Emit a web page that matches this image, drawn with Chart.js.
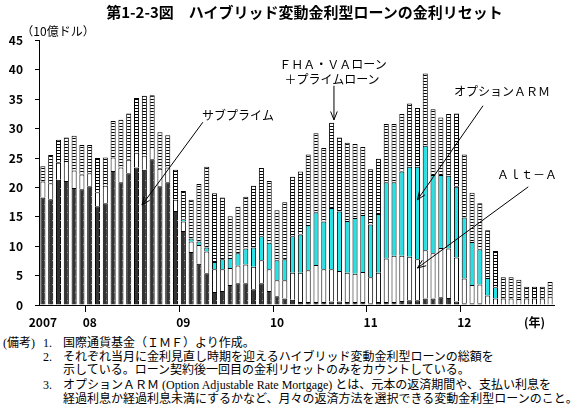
<!DOCTYPE html>
<html><head><meta charset="utf-8">
<script src="https://cdn.jsdelivr.net/npm/chart.js@4/dist/chart.umd.min.js"></script>
<style>
body{margin:0;background:#fff;width:578px;height:411px;overflow:hidden;position:relative;font-family:"Noto Sans CJK JP",sans-serif;color:#000}
#c{position:absolute;left:0;top:0}
.t{position:absolute;white-space:nowrap;line-height:12px;font-size:12px}
.cc{transform:translate(-50%,-50%)}
.n{font-family:"Liberation Serif","Noto Sans CJK JP",serif;font-size:12px;line-height:12px;position:absolute;white-space:nowrap}
</style></head><body>
<canvas id="c" width="578" height="335"></canvas>
<div class="t" style="left:0;width:609px;text-align:center;top:4px;font-size:15px;line-height:16px;font-weight:bold">第1-2-3図　ハイブリッド変動金利型ローンの金利リセット</div>
<div class="t cc" style="left:58px;top:31px;font-size:12px">（10億ドル）</div>
<div class="t cc" style="left:238px;top:115px">サブプライム</div>
<div class="t cc" style="left:333px;top:64px">ＦＨＡ・ＶＡローン</div>
<div class="t cc" style="left:332px;top:79px">＋プライムローン</div>
<div class="t cc" style="left:502px;top:91px">オプションＡＲＭ</div>
<div class="t cc" style="left:527px;top:174px">Ａｌｔ－Ａ</div>

<div class="n" style="left:3px;top:337px">(備考)</div>
<div class="n" style="left:43px;top:337px">1.</div>
<div class="n" style="left:63px;top:337px">国際通貨基金（ＩＭＦ）より作成。</div>
<div class="n" style="left:43px;top:351px">2.</div>
<div class="n" style="left:63px;top:351px">それぞれ当月に金利見直し時期を迎えるハイブリッド変動金利型ローンの総額を</div>
<div class="n" style="left:63px;top:364px">示している。ローン契約後一回目の金利リセットのみをカウントしている。</div>
<div class="n" style="left:43px;top:379px">3.</div>
<div class="n" style="left:63px;top:379px">オプションＡＲＭ (Option Adjustable Rate Mortgage) とは、元本の返済期間や、支払い利息を</div>
<div class="n" style="left:63px;top:393px">経過利息か経過利息未満にするかなど、月々の返済方法を選択できる変動金利型ローンのこと。</div>

<script>
// Months: Jul 2007 .. Dec 2012 (66)
const months = [];
for (let y = 2007; y <= 2012; y++) for (let m = 1; m <= 12; m++) if (y > 2007 || m >= 7) months.push(y + '/' + String(m).padStart(2,'0'));

const yearTicks = {0:'2007', 6:'08', 18:'09', 30:'10', 42:'11', 54:'12', 63:'(年)'};
const yearBoundaries = [6, 18, 30, 42, 54];

const subprime = [18.3,18.0,21.3,21.1,19.9,19.7,20.2,16.8,17.3,22.8,20.9,22.4,23.4,23.0,24.8,20.2,20.9,16.0,12.6,9.0,7.0,5.4,2.2,2.4,3.4,3.7,3.7,2.7,3.7,2.4,1.5,1.1,0.9,0.5,0.5,0.5,0.5,0.6,0.6,0.5,0.5,0.5,0.3,0.5,0.5,0.5,0.7,0.8,0.8,1.1,1.1,1.3,1.2,0.6,0.3,0.3,0.3,0.1,0.1,0.1,0.1,0.1,0.1,0.1,0.1,0.1];
const altA = [2.7,2.7,2.9,3.4,3.0,2.5,2.2,2.4,3.0,2.3,2.5,2.3,2.5,2.4,2.1,3.0,2.5,1.9,1.6,1.8,3.2,3.7,3.9,3.7,2.9,3.0,3.2,3.8,3.9,3.7,2.7,3.1,4.6,5.0,5.4,6.3,5.6,5.5,5.2,5.0,4.8,5.1,4.4,5.0,7.4,7.9,7.7,7.4,7.0,8.2,7.7,8.4,8.4,7.5,4.2,3.1,3.2,1.5,1.0,1.0,1.0,0.9,1.0,1.0,1.0,1.3];
const optionARM = [null,null,null,null,null,null,null,null,null,null,null,null,null,null,null,null,null,null,
  0.4,0.5,0.6,0.7,1.2,1.7,1.7,2.1,2.7,3.3,4.1,4.5,3.4,3.6,6.2,6.5,7.7,9.0,8.1,10.4,10.1,8.8,9.5,9.7,9.0,10.0,13.0,12.5,14.3,15.3,15.7,17.8,13.3,12.4,12.4,12.0,10.4,7.3,6.0,3.0,1.9,
  null,null,null,null,null,null,null];
const prime = [2.6,4.8,3.9,4.0,5.9,5.0,4.8,5.8,4.8,6.2,8.1,7.9,9.3,10.2,8.8,6.2,5.5,5.1,4.8,6.6,9.8,13.7,11.7,10.5,7.1,7.9,8.8,10.5,11.6,10.5,8.5,9.7,10.1,10.7,12.0,13.4,12.5,14.5,12.6,13.3,12.6,11.6,9.4,9.4,9.9,9.9,9.8,10.8,10.0,12.3,11.2,9.8,10.5,12.5,10.7,8.4,7.8,8.1,6.2,3.6,3.6,3.3,2.0,2.0,2.0,2.5];

const yTicks = {min:0, max:45, step:5};

// annotation arrows in (category index, value) space
const arrows = [
  {from:[20.5, 31.1], to:[12.7, 17.0]},
  {from:[37.3, 37.3], to:[37.3, 31.5]},
  {from:[56.4, 33.9], to:[48.0, 17.9]},
  {from:[62.2, 20.1], to:[48.0, 6.3]}
];

// stripe pattern for prime
const pc = document.createElement('canvas'); pc.width = 4; pc.height = 3;
const pctx = pc.getContext('2d');
pctx.fillStyle = '#fff'; pctx.fillRect(0,0,4,3);
pctx.fillStyle = '#000'; pctx.fillRect(0,0,4,1);
const stripe = pctx.createPattern(pc, 'repeat');

Chart.defaults.font.family = '"Noto Sans CJK JP", sans-serif';
Chart.defaults.color = '#000';

const dotsPlugin = {
  id:'dots',
  afterDatasetsDraw(chart){
    const meta = chart.getDatasetMeta(0);
    const ctx = chart.ctx;
    ctx.save();
    ctx.fillStyle = '#9a9a9a';
    meta.data.forEach(el => {
      const x = Math.round(el.x) + 1;
      for (let y = el.base - 5; y > el.y + 3; y -= 8) ctx.fillRect(x, Math.round(y), 1, 1);
    });
    ctx.restore();
  }
};

const arrowPlugin = {
  id:'arrows',
  afterDraw(chart){
    const xs = chart.scales.x, ys = chart.scales.y, ctx = chart.ctx;
    ctx.save();
    ctx.strokeStyle = '#000'; ctx.lineWidth = 1;
    arrows.forEach(a => {
      const x1 = xs.getPixelForValue(a.from[0]), y1 = ys.getPixelForValue(a.from[1]);
      const x2 = xs.getPixelForValue(a.to[0]), y2 = ys.getPixelForValue(a.to[1]);
      ctx.beginPath(); ctx.moveTo(x1,y1); ctx.lineTo(x2,y2); ctx.stroke();
      const ang = Math.atan2(y2-y1, x2-x1), L = 9, w = 0.38;
      ctx.beginPath();
      ctx.moveTo(x2 - L*Math.cos(ang-w), y2 - L*Math.sin(ang-w));
      ctx.lineTo(x2, y2);
      ctx.lineTo(x2 - L*Math.cos(ang+w), y2 - L*Math.sin(ang+w));
      ctx.stroke();
    });
    ctx.restore();
  }
};

const common = {borderColor:'#000', borderWidth:1, categoryPercentage:1, barPercentage:0.65, stack:'s'};

new Chart(document.getElementById('c'), {
  type:'bar',
  data:{
    labels: months,
    datasets:[
      {label:'サブプライム', data:subprime, backgroundColor:'#333333', ...common},
      {label:'Alt-A', data:altA, backgroundColor:'#ffffff', ...common},
      {label:'オプションARM', data:optionARM, backgroundColor:'#22e4e8', ...common},
      {label:'FHA・VAローン＋プライムローン', data:prime, backgroundColor:stripe, ...common}
    ]
  },
  options:{
    responsive:false, devicePixelRatio:1, animation:false,
    layout:{padding:{top:40.5, right:24, left:0, bottom:0}},
    plugins:{legend:{display:false}, tooltip:{enabled:false}, title:{display:false}},
    scales:{
      x:{
        stacked:true,
        afterFit(s){ s.height = 30; },
        border:{display:true, color:'#000', width:1},
        grid:{drawOnChartArea:false, drawTicks:true, tickLength:7, offset:true,
          color: c => yearBoundaries.includes(c.index) ? '#000' : 'rgba(0,0,0,0)', lineWidth:1},
        ticks:{autoSkip:false, maxRotation:0, minRotation:0, padding:3,
          font:{size:12, weight:'bold'}, color:'#000',
          callback:(v,i) => yearTicks[i] !== undefined ? yearTicks[i] : ''}
      },
      y:{
        stacked:true, min:yTicks.min, max:yTicks.max,
        afterFit(s){ s.width = 39; },
        border:{display:true, color:'#000', width:1},
        grid:{drawOnChartArea:false, drawTicks:true, tickLength:4, color:'#000'},
        ticks:{stepSize:yTicks.step, padding:12, font:{size:12, weight:'bold'}, color:'#000'}
      }
    }
  },
  plugins:[dotsPlugin, arrowPlugin]
});
</script>
</body></html>
